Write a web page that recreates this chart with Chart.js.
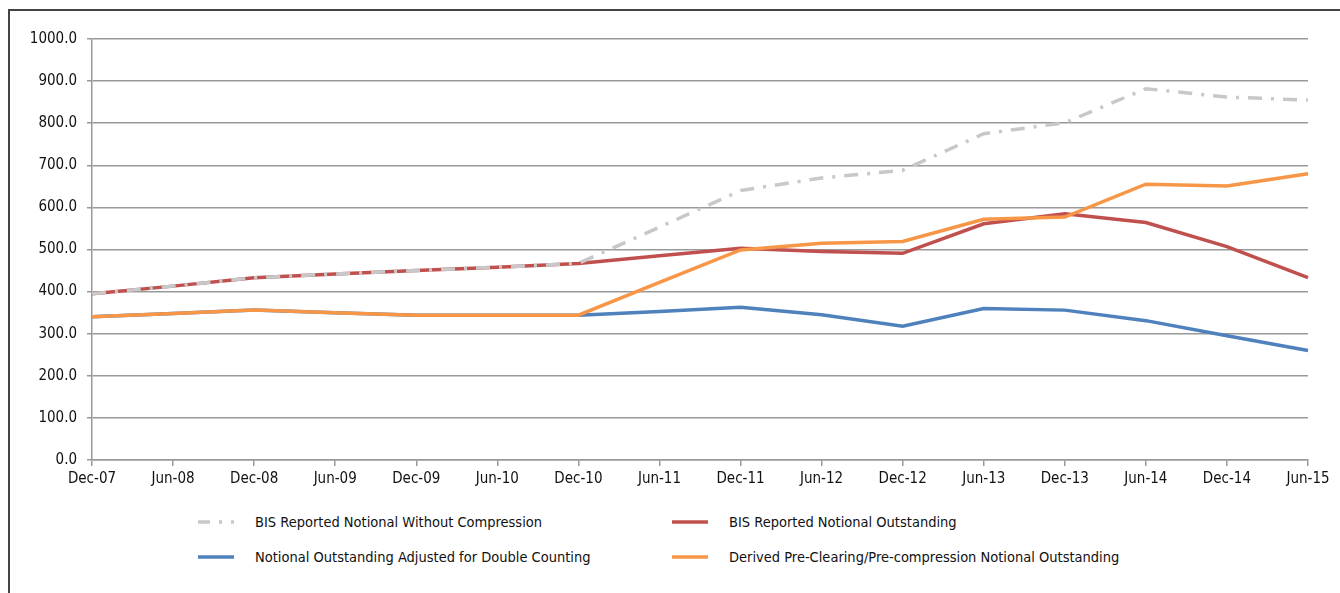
<!DOCTYPE html>
<html>
<head>
<meta charset="utf-8">
<script src="https://cdn.jsdelivr.net/npm/chart.js@4"></script>
<style>
  body { margin: 0; background: #fff; width: 1340px; height: 593px; overflow: hidden; position: relative; font-family: "DejaVu Sans Condensed", sans-serif; }
  #frame { position: absolute; left: 8px; top: 9px; width: 1400px; height: 700px; border-left: 2px solid #444; border-top: 2px solid #444; }
  #wrap { position: absolute; left: 0; top: 0; width: 1340px; height: 500px; }
  #legend { position: absolute; left: 0; top: 0; }
  .item { position: absolute; font-size: 14.5px; color: #111; white-space: nowrap; line-height: 18px; }
  .item canvas { position: absolute; left: 0; top: 3px; }
  .item span { position: absolute; left: 57px; top: 0; }
</style>
</head>
<body>
<div id="frame"></div>
<div id="wrap"><canvas id="chart"></canvas></div>
<div id="legend"></div>
<script>
// periods along the x axis
const periods = ['Dec-07', 'Jun-08', 'Dec-08', 'Jun-09', 'Dec-09', 'Jun-10', 'Dec-10', 'Jun-11',
  'Dec-11', 'Jun-12', 'Dec-12', 'Jun-13', 'Dec-13', 'Jun-14', 'Dec-14', 'Jun-15'];

// series values
const withoutCompression = [395, 413, 433, 442, 450, 458, 467, 553, 640, 670, 688, 775, 801, 882, 862, 855];
const bisOutstanding = [395, 413, 433, 442, 450, 458, 467, 485, 503, 495, 491, 561, 585, 564, 507, 433];
const adjustedDouble = [340, 348, 356, 350, 344, 344, 344, 353, 363, 345, 318, 360, 356, 331, 295, 260];
const preClearing = [340, 348, 356, 350, 344, 344, 344, 422, 499, 515, 519, 572, 577, 655, 651, 680];

const yTicks = [0, 100, 200, 300, 400, 500, 600, 700, 800, 900, 1000];

const font = { family: '"DejaVu Sans Condensed", sans-serif', size: 15 };

const series = [
  { label: 'BIS Reported Notional Without Compression', data: withoutCompression, color: '#c8c8c8', dash: [14, 9, 3, 9] },
  { label: 'BIS Reported Notional Outstanding', data: bisOutstanding, color: '#c0504d', dash: [] },
  { label: 'Notional Outstanding Adjusted for Double Counting', data: adjustedDouble, color: '#4f81bd', dash: [] },
  { label: 'Derived Pre-Clearing/Pre-compression Notional Outstanding', data: preClearing, color: '#f79646', dash: [] }
];

// lower order is drawn on top: gray over red, orange over blue
const order = [1, 2, 3, 0];

new Chart(document.getElementById('chart'), {
  type: 'line',
  data: {
    labels: periods,
    datasets: series.map((s, i) => ({
      label: s.label,
      data: s.data,
      borderColor: s.color,
      backgroundColor: s.color,
      borderWidth: 3.5,
      borderDash: s.dash,
      pointRadius: 0,
      tension: 0,
      order: order[i]
    }))
  },
  options: {
    responsive: true,
    maintainAspectRatio: false,
    animation: false,
    layout: { padding: { left: 0, top: 39, right: 32, bottom: 0 } },
    plugins: { legend: { display: false }, tooltip: { enabled: false } },
    scales: {
      x: {
        offset: false,
        afterFit: s => { s.height = 40; },
        grid: { display: true, drawOnChartArea: false, color: '#999', lineWidth: 1.5, tickLength: 6 },
        border: { display: true, color: '#999', width: 1.5 },
        ticks: { color: '#111', font: font, maxRotation: 0, autoSkip: false, padding: 4 }
      },
      y: {
        min: 0,
        max: 1000,
        afterFit: s => { s.width = 92; },
        afterBuildTicks: s => { s.ticks = yTicks.map(v => ({ value: v })); },
        grid: { color: '#999', lineWidth: 1.5, tickLength: 5 },
        border: { display: true, color: '#999', width: 1.5 },
        ticks: { color: '#111', font: font, padding: 10, callback: v => v.toFixed(1) }
      }
    }
  }
});

// HTML legend in two columns
const legend = document.getElementById('legend');
const spots = [[198, 513], [672, 513], [198, 548], [672, 548]];
series.forEach((s, i) => {
  const div = document.createElement('div');
  div.className = 'item';
  div.style.left = spots[i][0] + 'px';
  div.style.top = spots[i][1] + 'px';
  const c = document.createElement('canvas');
  c.width = 40; c.height = 12;
  const g = c.getContext('2d');
  g.strokeStyle = s.color;
  g.lineWidth = 3.5;
  g.setLineDash(s.dash.length ? [12, 9, 3, 9] : []);
  g.beginPath(); g.moveTo(0, 6); g.lineTo(36, 6); g.stroke();
  const t = document.createElement('span');
  t.textContent = s.label;
  div.appendChild(c);
  div.appendChild(t);
  legend.appendChild(div);
});
</script>
</body>
</html>
